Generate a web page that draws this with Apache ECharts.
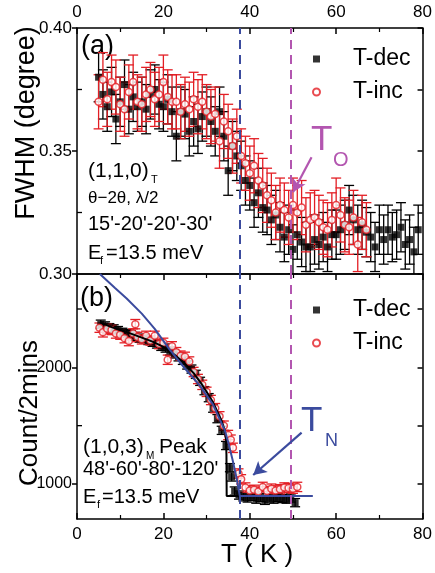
<!DOCTYPE html>
<html><head><meta charset="utf-8">
<script src="https://cdn.jsdelivr.net/npm/echarts@6/dist/echarts.min.js"></script>
<style>html,body{margin:0;padding:0;background:#fff;}#c{width:435px;height:573px;}</style>
</head><body><div id="c"></div>
<script>
// ---------- data ----------
const X_TICKS = [0, 20, 40, 60, 80];
const TOP_Y_LABELS = [0.30, 0.35, 0.40];
const TOP_MINOR = [0.325, 0.375];
const BOT_Y_LABELS = [1000, 2000];
const BOT_MINOR = [1500, 2500];

const TOP_DEC_T = [5,6,7,8,9,10,11,12,13,14,15,16,17,18,19,20,21,22,23,24,25,26,27,28,29,30,31,32,33,34,35,36,37,38,39,40,41,42,43,44,45,46,47,48,49,50,51,52,53,54,55,56,57,58,59,60,61,62,63,64,65,66,67,68,69,70,71,72,73,74,75,76,77,78,79];
const TOP_DEC_FWHM = [0.380,0.373,0.368,0.374,0.363,0.370,0.377,0.367,0.372,0.368,
  0.370,0.367,0.373,0.375,0.369,0.368,0.371,0.366,0.356,0.366,
  0.365,0.358,0.362,0.359,0.364,0.366,0.362,0.358,0.366,0.356,
  0.342,0.352,0.348,0.344,0.338,0.336,0.329,0.333,0.327,0.326,
  0.322,0.324,0.319,0.315,0.318,0.310,0.316,0.313,0.311,0.311,
  0.314,0.312,0.315,0.311,0.316,0.316,0.318,0.320,0.326,0.322,
  0.318,0.320,0.317,0.315,0.311,0.318,0.314,0.318,0.315,0.316,
  0.319,0.312,0.314,0.309,0.318];
const TOP_DEC_ERR = 0.010;

const TOP_INC_T = [5,6,7,8,9,10,11,12,13,14,15,16,17,18,19,20,21,22,23,24,25,26,27,28,29,30,31,32,33,34,35,36,37,38,39,40,41,42,43,44,45,46,47,48,49,50,51,52,53,54,55,56,57,58,59,60,61,62,63,64,65,66,67];
const TOP_INC_FWHM = [0.370,0.379,0.371,0.378,0.376,0.369,0.367,0.374,0.378,0.370,
  0.369,0.373,0.375,0.371,0.373,0.378,0.372,0.370,0.370,0.366,
  0.369,0.367,0.371,0.368,0.370,0.366,0.364,0.365,0.354,0.362,
  0.358,0.352,0.356,0.348,0.345,0.341,0.344,0.338,0.336,0.332,
  0.330,0.325,0.328,0.326,0.323,0.328,0.325,0.327,0.320,0.322,
  0.323,0.321,0.319,0.318,0.322,0.328,0.324,0.320,0.319,0.323,
  0.312,0.321,0.318];
const TOP_INC_ERR = 0.011;

const BOT_DEC_T = [5.5,6.5,7.5,8.5,9.5,10.5,11.5,12.5,13.5,14.5,15.5,16.5,17.5,18.5,19.5,20.5,21.5,22.5,23.5,24.5,25.5,26.5,27.5,28.5,29.5,30.5,31.5,32.5,33.5,34.5,35.4,35.8,36.5,37.5,38.5,39.5,40.5,41.5,42.5,43.5,44.5,45.5,46.5,47.5,48.5,49.5,50.5];
const BOT_DEC_CNT = [2370,2355,2340,2330,2315,2300,2290,2280,2265,2250,
  2245,2230,2215,2200,2180,2165,2140,2115,2090,2060,
  2020,1985,1940,1880,1800,1740,1650,1560,1460,1330,
  1140,1060,
  940,905,890,880,895,870,885,860,880,870,885,875,870,880,840];
const BOT_DEC_ERR = 35;

const BOT_INC_T = [5.2,6,7,8,9,10,11,12,13,13.5,14,15,16,17,18,19,20,21,22,23,24,25,26,27,28,29,30,31,32,33,34,35,35.6,36.1,37.4,38,39,40,41,42,43,44,45,46,47,48,49,50,51];
const BOT_INC_CNT = [2340,2300,2330,2320,2290,2280,2250,2225,2290,
  2370,
  2260,2240,2270,2230,2270,2200,2210,2065,2180,2130,2100,2090,2050,1960,1900,1850,1790,1720,1650,1580,1500,
  1420,1380,1310,1090,1040,
  970,945,950,935,975,940,960,945,955,970,965,960,975];
const BOT_INC_ERR = 40;

const BLACK_FIT_T = [5.3,8,10,12,15,17.5,20,22.5,25,27,28.8,30,31.5,32.5,33.5,34.2,34.5,34.6,34.65,49.6];
const BLACK_FIT_CNT = [2385,2345,2320,2295,2255,2220,2175,2110,2030,1950,1860,1790,1700,1620,1540,1460,1380,1250,897,897];
const BLUE_FIT_T = [5.3,8.8,11.5,15,18,21.5,25,28.4,30,31.5,33.1,34.2,35,36,37,37.7,54.6];
const BLUE_FIT_CNT = [2800,2680,2590,2460,2330,2150,1990,1845,1760,1680,1550,1462,1360,1210,1040,897,897];

const T_N_LINE = 37.7;
const T_O_LINE = 49.4;
const TO_ARROW = [[54.3, 0.3475], [50.0, 0.3332]];
const TN_ARROW = [[52.0, 1440], [40.8, 1077]];

// ---------- styling ----------
const FONT = "'Liberation Sans', Arial, Helvetica, sans-serif";
const RED = '#e31e24';
const BLUE = '#3b4b9e';
const MAGENTA = '#b356b0';
const AX = {color: '#000', width: 1.5};

function xAxis(grid, pos, showLabel, tickInside, showTick) {
  return {
    type: 'value', gridIndex: grid, position: pos, min: 0, max: 80, interval: 20,
    axisLine: {show: true, onZero: false, lineStyle: AX},
    axisTick: {show: showTick, inside: tickInside, length: 6, lineStyle: AX},
    minorTick: {show: showTick, splitNumber: 2, length: 4, lineStyle: {color: '#000', width: 1.2}},
    axisLabel: {show: showLabel, fontSize: 17, color: '#000', fontFamily: FONT, margin: 7},
    splitLine: {show: false}
  };
}

function errSeries(xIdx, yIdx, T, V, err, color) {
  return {
    type: 'custom', name: 'err', xAxisIndex: xIdx, yAxisIndex: yIdx, silent: true, clip: true,
    data: T.map((t, i) => [t, V[i] - err, V[i] + err]),
    encode: {x: 0, y: [1, 2]},
    renderItem: (params, api) => {
      const lo = api.coord([api.value(0), api.value(1)]);
      const hi = api.coord([api.value(0), api.value(2)]);
      const st = {stroke: color, lineWidth: 1.3};
      const c = 5;
      return {type: 'group', children: [
        {type: 'line', shape: {x1: lo[0], y1: lo[1], x2: hi[0], y2: hi[1]}, style: st},
        {type: 'line', shape: {x1: lo[0] - c, y1: lo[1], x2: lo[0] + c, y2: lo[1]}, style: st},
        {type: 'line', shape: {x1: hi[0] - c, y1: hi[1], x2: hi[0] + c, y2: hi[1]}, style: st}
      ]};
    }
  };
}

function minorTickSeries(xIdx, yIdx, vals) {
  return {
    type: 'custom', name: 'minor', xAxisIndex: xIdx, yAxisIndex: yIdx, silent: true, clip: false, z: 5,
    data: vals.map(v => [0, v]),
    renderItem: (params, api) => {
      const c = api.coord([api.value(0), api.value(1)]);
      return {type: 'line', shape: {x1: c[0], y1: c[1], x2: c[0] + 5, y2: c[1]}, style: {stroke: '#000', lineWidth: 1.3}};
    }
  };
}

const vLines = {
  silent: true, symbol: ['none', 'none'], label: {show: false},
  lineStyle: {type: [9, 6], width: 2},
  data: [
    {xAxis: T_N_LINE, lineStyle: {color: BLUE, type: [9, 6], width: 2}},
    {xAxis: T_O_LINE, lineStyle: {color: MAGENTA, type: [9, 6], width: 2}}
  ]
};

function arrow(pts, color) {
  return {
    silent: true, symbol: ['none', 'arrow'], symbolSize: [11, 13], label: {show: false},
    lineStyle: {color: color, width: 2.2, type: 'solid'},
    data: [[{coord: pts[0]}, {coord: pts[1]}]]
  };
}

const legendBase = {
  orient: 'vertical', left: 312, padding: 0, itemWidth: 7, itemHeight: 7, itemGap: 7,
  selectedMode: false,
  textStyle: {fontSize: 23, fontFamily: FONT, color: '#000', lineHeight: 26, padding: [0, 0, 0, 28]},
  data: ['T-dec', 'T-inc']
};

function txt(x, y, text, size, color, extra) {
  return Object.assign({
    type: 'text', x: x, y: y, silent: true,
    style: {text: text, fill: color || '#000', font: size + 'px ' + FONT, textAlign: 'left', textVerticalAlign: 'middle'}
  }, extra || {});
}

const chart = echarts.init(document.getElementById('c'), null, {renderer: 'canvas'});
chart.setOption({
  animation: false,
  backgroundColor: '#fff',
  grid: [
    {left: 77, top: 28, width: 346, height: 246},
    {left: 77, top: 274, width: 346, height: 245}
  ],
  xAxis: [
    xAxis(0, 'top', true, true, true),
    xAxis(0, 'bottom', false, false, true),
    xAxis(1, 'bottom', true, true, true),
    xAxis(1, 'top', false, true, false)
  ],
  yAxis: [
    {type: 'value', gridIndex: 0, position: 'left', min: 0.30, max: 0.40,
     axisLine: {show: true, onZero: false, lineStyle: AX},
     axisTick: {show: true, inside: false, length: 5, lineStyle: AX, customValues: TOP_Y_LABELS},
     axisLabel: {show: true, customValues: TOP_Y_LABELS, formatter: v => v.toFixed(2), fontSize: 17, color: '#000', fontFamily: FONT, margin: 5},
     splitLine: {show: false}},
    {type: 'value', gridIndex: 0, position: 'right', min: 0.30, max: 0.40, interval: 0.025,
     axisLine: {show: true, onZero: false, lineStyle: AX},
     axisTick: {show: true, inside: true, length: 5, lineStyle: AX},
     axisLabel: {show: false}, splitLine: {show: false}},
    {type: 'value', gridIndex: 1, position: 'left', min: 700, max: 2800,
     axisLine: {show: true, onZero: false, lineStyle: AX},
     axisTick: {show: true, inside: false, length: 5, lineStyle: AX, customValues: BOT_Y_LABELS},
     axisLabel: {show: true, customValues: BOT_Y_LABELS, formatter: v => String(Math.round(v)), fontSize: 16, color: '#000', fontFamily: FONT, margin: 5},
     splitLine: {show: false}},
    {type: 'value', gridIndex: 1, position: 'right', min: 700, max: 2800,
     axisLine: {show: true, onZero: false, lineStyle: AX},
     axisTick: {show: true, inside: true, length: 5, lineStyle: AX, customValues: BOT_Y_LABELS.concat(BOT_MINOR)},
     axisLabel: {show: false}, splitLine: {show: false}}
  ],
  legend: [
    Object.assign({}, legendBase, {top: 46}),
    Object.assign({}, legendBase, {top: 297})
  ],
  series: [
    minorTickSeries(0, 0, TOP_MINOR),
    minorTickSeries(2, 2, BOT_MINOR),
    // panel (a)
    errSeries(0, 0, TOP_DEC_T, TOP_DEC_FWHM, TOP_DEC_ERR, '#000'),
    {type: 'scatter', name: 'T-dec', xAxisIndex: 0, yAxisIndex: 0, symbol: 'rect', symbolSize: 7,
     itemStyle: {color: '#000'}, data: TOP_DEC_T.map((t, i) => [t, TOP_DEC_FWHM[i]]), markLine: vLines},
    errSeries(0, 0, TOP_INC_T, TOP_INC_FWHM, TOP_INC_ERR, RED),
    {type: 'scatter', name: 'T-inc', xAxisIndex: 0, yAxisIndex: 0, symbol: 'circle', symbolSize: 7,
     itemStyle: {color: '#fff', borderColor: RED, borderWidth: 1.5},
     data: TOP_INC_T.map((t, i) => [t, TOP_INC_FWHM[i]]), markLine: arrow(TO_ARROW, MAGENTA)},
    // panel (b)
    errSeries(2, 2, BOT_DEC_T, BOT_DEC_CNT, BOT_DEC_ERR, '#000'),
    {type: 'scatter', name: 'T-dec', xAxisIndex: 2, yAxisIndex: 2, symbol: 'rect', symbolSize: 7,
     itemStyle: {color: '#000'}, data: BOT_DEC_T.map((t, i) => [t, BOT_DEC_CNT[i]]), markLine: vLines},
    errSeries(2, 2, BOT_INC_T, BOT_INC_CNT, BOT_INC_ERR, RED),
    {type: 'scatter', name: 'T-inc', xAxisIndex: 2, yAxisIndex: 2, symbol: 'circle', symbolSize: 7,
     itemStyle: {color: '#fff', borderColor: RED, borderWidth: 1.5},
     data: BOT_INC_T.map((t, i) => [t, BOT_INC_CNT[i]]), markLine: arrow(TN_ARROW, BLUE)},
    {type: 'line', name: 'fit-black', xAxisIndex: 2, yAxisIndex: 2, symbol: 'none', silent: true, z: 4,
     lineStyle: {color: '#000', width: 2}, data: BLACK_FIT_T.map((t, i) => [t, BLACK_FIT_CNT[i]])},
    {type: 'line', name: 'fit-blue', xAxisIndex: 2, yAxisIndex: 2, symbol: 'none', silent: true, z: 4, clip: true,
     lineStyle: {color: BLUE, width: 2}, data: BLUE_FIT_T.map((t, i) => [t, BLUE_FIT_CNT[i]])}
  ],
  graphic: [
    txt(27, 123, 'FWHM (degree)', 27, '#000', {rotation: Math.PI / 2, style: {text: 'FWHM (degree)', fill: '#000', font: '27px ' + FONT, textAlign: 'center', textVerticalAlign: 'middle'}}),
    txt(30, 413, 'Count/2mins', 26, '#000', {rotation: Math.PI / 2, style: {text: 'Count/2mins', fill: '#000', font: '26px ' + FONT, textAlign: 'center', textVerticalAlign: 'middle'}}),
    txt(257, 555, 'T ( K )', 26, '#000', {style: {text: 'T ( K )', fill: '#000', font: '26px ' + FONT, textAlign: 'center', textVerticalAlign: 'middle'}}),
    txt(81, 47, '(a)', 27),
    txt(88, 171, '(1,1,0)', 21),
    txt(151, 180, 'T', 11),
    txt(88, 198, 'θ−2θ, λ/2', 17),
    txt(88, 224, "15'-20'-20'-30'", 20),
    txt(88, 253, 'E', 20),
    txt(100, 261, 'f', 11),
    txt(106, 253, '=13.5 meV', 20),
    txt(80, 299, '(b)', 27),
    txt(83, 447, '(1,0,3)', 21),
    txt(146, 456, 'M', 10),
    txt(159, 447, 'Peak', 21),
    txt(83, 469, "48'-60'-80'-120'", 20),
    txt(83, 497, 'E', 20),
    txt(97, 505, 'f', 11),
    txt(102, 497, '=13.5 meV', 20),
    txt(311, 140, 'T', 35, MAGENTA),
    txt(333, 160, 'O', 20, MAGENTA),
    txt(301, 421, 'T', 35, BLUE),
    txt(325, 441, 'N', 18, BLUE)
  ]
});
</script></body></html>
